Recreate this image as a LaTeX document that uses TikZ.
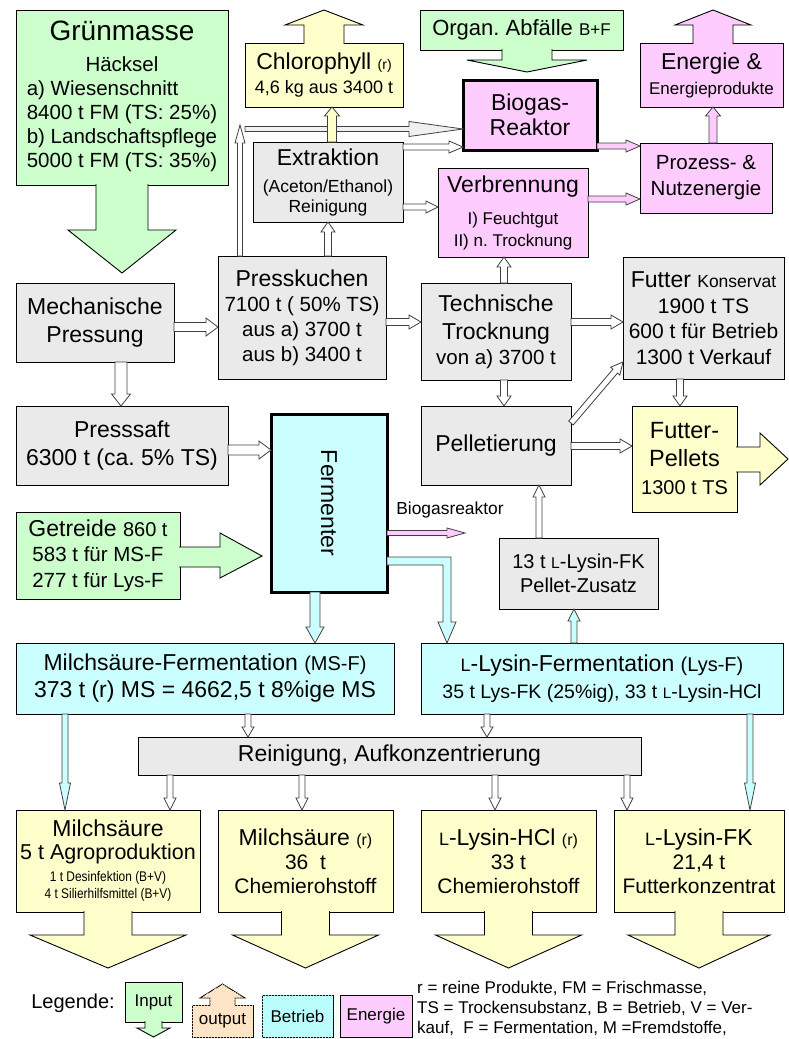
\documentclass[tikz,border=0pt]{standalone}
\usepackage{fontspec}
\usepackage{graphicx}
\setmainfont{Liberation Sans}
\newfontfamily\narrowfont[FakeStretch=0.85]{Liberation Sans}
\usetikzlibrary{calc,patterns}
\definecolor{ingreen}{HTML}{CCFFCC}
\definecolor{outyellow}{HTML}{FFFFCC}
\definecolor{betrcyan}{HTML}{CCFFFF}
\definecolor{enpink}{HTML}{FFCCFF}
\definecolor{procgray}{HTML}{EAEAEA}
\definecolor{legorange}{HTML}{FFEBD2}
\definecolor{edge}{HTML}{404040}
\frenchspacing
\newcommand\fsz[2]{\fontsize{#1}{#2}\selectfont}
\newcommand\Lsc{\scalebox{0.78}{L}}
\newcommand\blkarrow[6][]{%
  \coordinate (bas) at (#2);
  \coordinate (bat) at (#3);
  \coordinate (bah) at ($(bat)!#6!(bas)$);
  \filldraw[flow,#1] ($(bas)!#4!90:(bat)$) -- ($(bah)!#4!90:(bat)$) -- ($(bah)!#5!90:(bat)$) -- (bat)
    -- ($(bah)!#5!-90:(bat)$) -- ($(bah)!#4!-90:(bat)$) -- ($(bas)!#4!-90:(bat)$) -- cycle;}
\tikzset{
  box/.style={draw=black, line width=0.9pt, inner sep=0pt, outer sep=0pt, align=center},
  procbox/.style={box, fill=procgray},
  inbox/.style={box, fill=ingreen},
  outbox/.style={box, fill=outyellow},
  betrbox/.style={box, fill=betrcyan},
  enbox/.style={box, fill=enpink},
  edgeline/.style={draw=black, line width=0.9pt},
  flow/.style={draw=edge, line width=0.8pt, fill=white},
  flowc/.style={fill=betrcyan},
  flowp/.style={fill=enpink},
  flowy/.style={fill=outyellow},
}
\begin{document}
\begin{tikzpicture}[x=1pt,y=-1pt,line join=miter]
\useasboundingbox (0,0) rectangle (789,1039);
\node[inbox, minimum width=212pt, minimum height=175pt, font=\fsz{20.5}{24}] (gruen) at (122,97.5)
  {\begin{tabular}{@{}l@{}}\multicolumn{1}{@{}c@{}}{\fsz{28}{30}Grünmasse}\\[7pt]
   \multicolumn{1}{@{}c@{}}{Häcksel}\\ a) Wiesenschnitt\\ 8400 t FM (TS: 25\%)\\ b) Landschaftspflege\\ 5000 t FM (TS: 35\%)\end{tabular}};
\node[outbox, minimum width=158pt, minimum height=64pt, font=\fsz{18}{24}] (chloro) at (324,75)
  {{\fsz{23}{24}Chlorophyll \fsz{14}{14}(r)}\\4,6 kg aus 3400 t};
\node[inbox, minimum width=203pt, minimum height=40pt, font=\fsz{22}{24}] (organ) at (521.5,30)
  {Organ. Abfälle {\fsz{17}{17}B+F}};
\node[enbox, line width=3pt, minimum width=134pt, minimum height=70pt, font=\fsz{23}{25}] (biogas) at (530,115)
  {Biogas-\\Reaktor};
\node[enbox, minimum width=143pt, minimum height=64pt, font=\fsz{17}{25}] (energie) at (711.5,75)
  {{\fsz{23}{25}Energie \&}\\Energieprodukte};
\node[enbox, minimum width=132pt, minimum height=70pt, font=\fsz{20.5}{26}] (prozess) at (706,178)
  {Prozess- \&\\Nutzenergie};
\node[procbox, minimum width=150pt, minimum height=80pt, font=\fsz{17.5}{20}] (extr) at (328,182)
  {{\fsz{23}{20}Extraktion}\\[7pt](Aceton/Ethanol)\\Reinigung};
\node[enbox, minimum width=150pt, minimum height=89pt, font=\fsz{17}{22}] (verbr) at (513,212.5)
  {{\fsz{23}{22}Verbrennung}\\[10pt]I) Feuchtgut\\II) n. Trocknung};
\node[procbox, minimum width=158pt, minimum height=79pt, font=\fsz{23}{28}] (mech) at (95,322.5)
  {Mechanische\\Pressung};
\node[procbox, minimum width=168pt, minimum height=123pt, font=\fsz{20.5}{25}] (press) at (302,317.5)
  {{\fsz{23}{25}Presskuchen}\\7100 t ( 50\% TS)\\aus a) 3700 t\\aus b) 3400 t};
\node[procbox, minimum width=150pt, minimum height=97pt, font=\fsz{23}{28}] (techn) at (496,331.5)
  {Technische\\Trocknung\\[-3pt]{\fsz{20.5}{25}von a) 3700 t}};
\node[procbox, minimum width=161pt, minimum height=122pt, font=\fsz{21}{25.5}] (futter) at (703.5,318)
  {{\fsz{23}{25}Futter \fsz{17.5}{20}Konservat}\\1900 t TS\\600 t für Betrieb\\1300 t Verkauf};
\node[procbox, minimum width=212pt, minimum height=79pt, font=\fsz{23}{28}] (saft) at (122,445.5)
  {Presssaft\\6300 t (ca. 5\% TS)};
\node[betrbox, line width=3pt, minimum width=116pt, minimum height=178pt] (ferm) at (329,503) {};
\node[rotate=-90, font=\fsz{23}{28}] (fermtext) at (ferm.center) {Fermenter};
\node[procbox, minimum width=150pt, minimum height=79pt, font=\fsz{23}{28}] (pellet) at (496,445.5)
  {Pelletierung};
\node[outbox, minimum width=105pt, minimum height=106pt, font=\fsz{20}{28}] (fpell) at (684.5,459)
  {{\fsz{23.5}{28}Futter-}\\{\fsz{23.5}{28}Pellets}\\1300 t TS};
\node[inbox, minimum width=164pt, minimum height=87pt, font=\fsz{20.5}{25.5}] (getr) at (98,555.5)
  {{\fsz{23}{25}Getreide \fsz{20}{25}860 t}\\583 t für MS-F\\277 t für Lys-F};
\node[procbox, minimum width=159pt, minimum height=71pt, font=\fsz{20}{24}] (zusatz) at (578.5,573.5)
  {13 t \Lsc-Lysin-FK\\Pellet-Zusatz};
\node[betrbox, minimum width=378pt, minimum height=71pt, font=\fsz{23}{27}] (msf) at (205,678.5)
  {Milchsäure-Fermentation {\fsz{20}{25}(MS-F)}\\373 t (r) MS = 4662,5 t 8\%ige MS};
\node[betrbox, minimum width=362pt, minimum height=71pt, font=\fsz{19.5}{27}] (lysf) at (602,678.5)
  {{\fsz{23}{27}\Lsc-Lysin-Fermentation \fsz{20}{27}(Lys-F)}\\35 t Lys-FK (25\%ig), 33 t \Lsc-Lysin-HCl};
\node[procbox, minimum width=503pt, minimum height=38pt, font=\fsz{23}{27}] (rein) at (389.5,756)
  {Reinigung, Aufkonzentrierung};
\node[outbox, minimum width=184pt, minimum height=102pt, font=\fsz{21.5}{23}] (out1) at (108,861)
  {{\fsz{23}{23}Milchsäure}\\5 t Agroproduktion\\[-1pt]{\narrowfont\fsz{14}{17}1 t Desinfektion (B+V)}\\[-6pt]{\narrowfont\fsz{14}{17}4 t Silierhilfsmittel (B+V)}};
\node[outbox, minimum width=175pt, minimum height=102pt, font=\fsz{21}{24}] (out2) at (305.5,861)
  {{\fsz{23}{24}Milchsäure \fsz{16}{20}(r)}\\36\ \ t\\Chemierohstoff};
\node[outbox, minimum width=175pt, minimum height=102pt, font=\fsz{21}{24}] (out3) at (508.5,861)
  {{\fsz{23}{24}\Lsc-Lysin-HCl \fsz{16}{20}(r)}\\33 t\\Chemierohstoff};
\node[outbox, minimum width=170pt, minimum height=102pt, font=\fsz{21}{24}] (out4) at (699,861)
  {{\fsz{23}{24}\Lsc-Lysin-FK}\\21,4 t\\Futterkonzentrat};
\node[font=\fsz{17.4}{20}] (bglabel) at (450,510) {Biogasreaktor};
\coordinate (bgout) at (465,533);
\coordinate (pup) at (240,125);
\coordinate (pside) at (245,129);

\filldraw[edgeline, fill=ingreen] ($(gruen.south)+(-26,-1)$) -- ++(0,46) -- ++(-28,0) -- ++(54,43) -- ++(54,-43) -- ++(-28,0) -- ++(0,-46);
\filldraw[edgeline, fill=outyellow] ($(chloro.north)+(-20,1)$) -- ++(0,-19) -- ++(-19,0) -- ++(39,-15) -- ++(39,15) -- ++(-19,0) -- ++(0,19);
\filldraw[edgeline, fill=ingreen] ($(organ.south)+(-19.5,-1)$) -- ++(0,11) -- ++(-35,0) -- ++(60,12) -- ++(60,-12) -- ++(-35,0) -- ++(0,-11);
\filldraw[edgeline, fill=enpink] ($(energie.north)+(-18.5,1)$) -- ++(0,-19) -- ++(-18,0) -- ++(38,-15) -- ++(38,15) -- ++(-18,0) -- ++(0,19);
\filldraw[edgeline, fill=ingreen] ($(getr.east)+(-1,-8.5)$) -- ++(41,0) -- ++(0,-14) -- ++(42,23) -- ++(-42,22) -- ++(0,-11) -- ++(-41,0);
\filldraw[edgeline, fill=outyellow] ($(fpell.east)+(-1,-12)$) -- ++(24,0) -- ++(0,-14) -- ++(28,26) -- ++(-28,26) -- ++(0,-13) -- ++(-24,0);
\foreach \n/\h in {out1/78,out2/73,out3/73,out4/71}{
  \filldraw[edgeline, fill=outyellow] ($(\n.south)+(-24,-1)$) -- ++(0,24) -- ++({-\h+24},0) -- ++(\h,33) -- ++(\h,-33) -- ++({-\h+24},0) -- ++(0,-24);
}

\blkarrow{mech.east |- 0,327}{press.west |- 0,327}{4.5pt}{9pt}{12pt}
\blkarrow{mech.south -| 121,0}{saft.north -| 121,0}{6pt}{9.5pt}{12pt}
\blkarrow{saft.east |- 0,450}{ferm.west |- 0,450}{5pt}{9pt}{12pt}
\blkarrow{press.east |- 0,322}{techn.west |- 0,322}{3.5pt}{7pt}{12pt}
\blkarrow{techn.east |- 0,322}{futter.west |- 0,322}{3.5pt}{7pt}{12pt}
\blkarrow{techn.south -| 504,0}{pellet.north -| 504,0}{3.5pt}{7pt}{10pt}
\blkarrow{techn.north -| 504,0}{verbr.south -| 504,0}{3.5pt}{7pt}{10pt}
\blkarrow{futter.south -| 680,0}{fpell.north -| 680,0}{3.5pt}{7pt}{10pt}
\blkarrow{pellet.east |- 0,446}{fpell.west |- 0,446}{3.5pt}{7pt}{12pt}
\blkarrow{pellet.east |- 0,423}{futter.west |- 0,362}{3pt}{6pt}{12pt}
\blkarrow{zusatz.north -| 539,0}{pellet.south -| 539,0}{3pt}{6pt}{12pt}
\blkarrow[flowc]{lysf.north -| 574,0}{zusatz.south -| 574,0}{3pt}{6pt}{12pt}
\blkarrow{press.north -| 328,0}{extr.south -| 328,0}{3.5pt}{7pt}{10pt}
\blkarrow{press.north -| 240,0}{pup}{2.5pt}{5pt}{18pt}
\blkarrow[fill=gray!12]{pside}{biogas.west |- pside}{2.5pt}{7.5pt}{54pt}
\blkarrow{extr.east |- 0,147}{biogas.west |- 0,147}{3pt}{6pt}{14pt}
\blkarrow{extr.east |- 0,207}{verbr.west |- 0,207}{3pt}{6pt}{12pt}
\blkarrow[flowp]{biogas.east |- 0,146}{prozess.west |- 0,146}{3pt}{6pt}{14pt}
\blkarrow[flowp]{verbr.east |- 0,199}{prozess.west |- 0,199}{3pt}{6pt}{14pt}
\blkarrow[flowp]{prozess.north -| 713,0}{energie.south -| 713,0}{4pt}{7.5pt}{9pt}
\blkarrow[flowy]{extr.north -| 332,0}{chloro.south -| 332,0}{4.5pt}{7.5pt}{9pt}
\blkarrow[flowc]{ferm.south -| 315,0}{msf.north -| 315,0}{5pt}{9pt}{16pt}
\blkarrow[flowp]{ferm.east |- bgout}{bgout}{2.5pt}{5pt}{18pt}
\filldraw[flow, flowc] (ferm.east |- 0,557) -- (451,557) -- (451,622) -- (456,622) -- (lysf.north -| 447,0)
  -- (438,622) -- (443,622) -- (443,565) -- (ferm.east |- 0,565) -- cycle;
\blkarrow[flowc]{msf.south -| 65,0}{out1.north -| 65,0}{3pt}{5.5pt}{27pt}
\blkarrow{msf.south -| 248,0}{rein.north -| 248,0}{3pt}{6pt}{10pt}
\blkarrow{lysf.south -| 487,0}{rein.north -| 487,0}{3pt}{6pt}{10pt}
\blkarrow[flowc]{lysf.south -| 750,0}{out4.north -| 750,0}{3pt}{5.5pt}{27pt}
\foreach \n/\x in {out1/170,out2/302,out3/495,out4/627}{
  \blkarrow{rein.south -| \x,0}{\n.north -| \x,0}{3pt}{6pt}{12pt}
}

\node[font=\fsz{20}{24}] (legtitle) at (73,1003) {Legende:};
\node[inbox, minimum width=57pt, minimum height=40pt, font=\fsz{17}{20}] (leginput) at (153.5,1002) {Input};
\filldraw[edgeline, fill=ingreen] ($(leginput.south)+(-8.5,-1)$) -- ++(0,7) -- ++(-8,0) -- ++(16.5,9) -- ++(16.5,-9) -- ++(-8,0) -- ++(0,-7);
\node[box, fill=legorange, postaction={pattern=north east lines, pattern color=orange!30}, minimum width=61pt, minimum height=32pt, font=\fsz{17}{20}] (legoutput) at (222.5,1021) {output};
\filldraw[edgeline, fill=legorange, postaction={pattern=north east lines, pattern color=orange!30}] ($(legoutput.north)+(-12.5,1)$) -- ++(0,-8) -- ++(-10,0) -- ++(22.5,-14) -- ++(22.5,14) -- ++(-10,0) -- ++(0,8);
\node[betrbox, postaction={pattern=north east lines, pattern color=cyan!40}, minimum width=71pt, minimum height=42pt, font=\fsz{17}{20}] (legbetrieb) at (297.5,1016) {Betrieb};
\node[enbox, minimum width=72pt, minimum height=42pt, font=\fsz{17}{20}] (legenergie) at (376,1016) {Energie};
\node[anchor=north west, align=left, inner sep=0pt, font=\fsz{17}{20}] (legnote) at (417,981)
  {r = reine Produkte, FM = Frischmasse,\\TS = Trockensubstanz, B = Betrieb, V = Ver-\\kauf,\ \ F = Fermentation, M =Fremdstoffe,};
\end{tikzpicture}
\end{document}
